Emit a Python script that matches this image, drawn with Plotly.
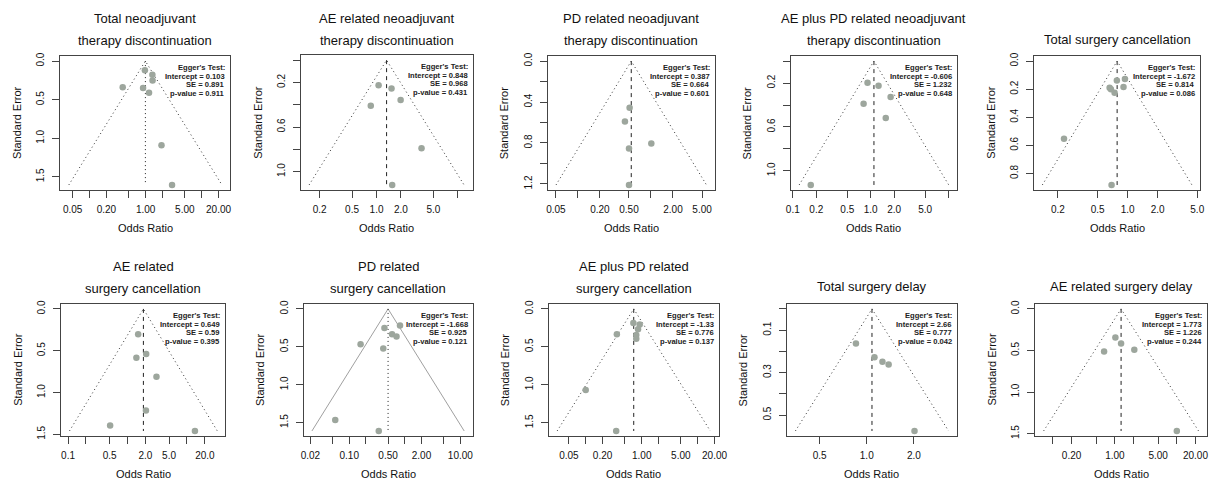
import numpy as np
import plotly.graph_objects as go

W, H = 1224, 493
FONT = "Liberation Sans, Arial, Helvetica, sans-serif"

# ---------------- data ----------------
titles = [
    ["Total neoadjuvant", "therapy discontinuation"],
    ["AE related neoadjuvant", "therapy discontinuation"],
    ["PD related neoadjuvant", "therapy discontinuation"],
    ["AE plus PD related neoadjuvant", "therapy discontinuation"],
    ["Total surgery cancellation"],
    ["AE related", "surgery cancellation"],
    ["PD related", "surgery cancellation"],
    ["AE plus PD related", "surgery cancellation"],
    ["Total surgery delay"],
    ["AE related surgery delay"],
]

pooled_or = [0.99, 1.33, 0.537, 1.10, 0.785, 1.85, 0.50, 0.72, 1.08, 1.26]

or_p1 = [0.97, 1.32, 1.33, 0.39, 0.90, 1.15, 1.92, 2.96]
se_p1 = [0.12, 0.176, 0.25, 0.34, 0.35, 0.41, 1.09, 1.605]
or_p2 = [1.06, 1.53, 1.98, 0.85, 3.58, 1.56]
se_p2 = [0.225, 0.255, 0.357, 0.41, 0.79, 1.12]
or_p3 = [0.51, 0.44, 1.01, 0.50, 0.50]
se_p3 = [0.456, 0.59, 0.806, 0.854, 1.21]
or_p4 = [0.91, 1.26, 1.80, 0.81, 1.56, 0.17]
se_p4 = [0.197, 0.224, 0.326, 0.389, 0.518, 1.128]
or_p5 = [0.94, 0.78, 0.91, 0.66, 0.68, 0.74, 0.23, 0.69]
se_p5 = [0.127, 0.139, 0.184, 0.19, 0.20, 0.226, 0.553, 0.882]
or_p6 = [1.51, 2.06, 1.41, 3.07, 2.04, 0.51, 13.6]
se_p6 = [0.304, 0.538, 0.584, 0.81, 1.215, 1.395, 1.46]
or_p7 = [0.82, 0.43, 0.59, 0.71, 0.16, 0.41, 0.056, 0.34]
se_p7 = [0.219, 0.253, 0.334, 0.364, 0.467, 0.523, 1.466, 1.61]
or_p8 = [0.71, 0.92, 0.86, 0.80, 0.80, 0.36, 0.10, 0.35]
se_p8 = [0.184, 0.205, 0.269, 0.342, 0.393, 0.333, 1.068, 1.607]
or_p9 = [0.853, 1.12, 1.26, 1.38, 2.02]
se_p9 = [0.163, 0.228, 0.249, 0.262, 0.575]
or_p10 = [1.02, 1.26, 2.06, 0.67, 10.0]
se_p10 = [0.345, 0.415, 0.49, 0.513, 1.469]

egger_intercept = ["0.103", "0.848", "0.387", "-0.606", "-1.672", "0.649", "-1.668", "-1.33", "2.66", "1.773"]
egger_se = ["0.891", "0.968", "0.664", "1.232", "0.814", "0.59", "0.925", "0.776", "0.777", "1.226"]
egger_p = ["0.911", "0.431", "0.601", "0.648", "0.086", "0.395", "0.121", "0.137", "0.042", "0.244"]

x_ticks = [
    [0.05, 0.1, 0.2, 0.5, 1, 2, 5, 10, 20],
    [0.2, 0.5, 1, 2, 5, 10],
    [0.05, 0.1, 0.2, 0.5, 1, 2, 5],
    [0.1, 0.2, 0.5, 1, 2, 5, 10],
    [0.2, 0.5, 1, 2, 5],
    [0.1, 0.2, 0.5, 1, 2, 5, 10, 20],
    [0.02, 0.05, 0.1, 0.2, 0.5, 1, 2, 5, 10],
    [0.05, 0.1, 0.2, 0.5, 1, 2, 5, 10, 20],
    [0.5, 1, 2],
    [0.05, 0.1, 0.2, 0.5, 1, 2, 5, 10, 20],
]
x_labels = [
    ["0.05", "", "0.20", "", "1.00", "", "5.00", "", "20.00"],
    ["0.2", "0.5", "1.0", "2.0", "5.0", ""],
    ["0.05", "", "0.20", "0.50", "", "2.00", "5.00"],
    ["0.1", "0.2", "0.5", "1.0", "2.0", "5.0", ""],
    ["0.2", "0.5", "1.0", "2.0", "5.0"],
    ["0.1", "", "0.5", "", "2.0", "5.0", "", "20.0"],
    ["0.02", "", "0.10", "", "0.50", "", "2.00", "", "10.00"],
    ["0.05", "", "0.20", "", "1.00", "", "5.00", "", "20.00"],
    ["0.5", "1.0", "2.0"],
    ["0.05", "", "0.20", "", "1.00", "", "5.00", "", "20.00"],
]
y_ticks = [
    [0.0, 0.5, 1.0, 1.5],
    [0.0, 0.2, 0.4, 0.6, 0.8, 1.0],
    [0.0, 0.2, 0.4, 0.6, 0.8, 1.0, 1.2],
    [0.0, 0.2, 0.4, 0.6, 0.8, 1.0],
    [0.0, 0.2, 0.4, 0.6, 0.8],
    [0.0, 0.5, 1.0, 1.5],
    [0.0, 0.5, 1.0, 1.5],
    [0.0, 0.5, 1.0, 1.5],
    [0.0, 0.1, 0.2, 0.3, 0.4, 0.5],
    [0.0, 0.5, 1.0, 1.5],
]
y_labels = [
    ["0.0", "0.5", "1.0", "1.5"],
    ["", "0.2", "", "0.6", "", "1.0"],
    ["0.0", "", "0.4", "", "0.8", "", "1.2"],
    ["", "0.2", "", "0.6", "", "1.0"],
    ["0.0", "0.2", "0.4", "0.6", "0.8"],
    ["0.0", "0.5", "1.0", "1.5"],
    ["0.0", "0.5", "1.0", "1.5"],
    ["0.0", "0.5", "1.0", "1.5"],
    ["", "0.1", "", "0.3", "", "0.5"],
    ["0.0", "0.5", "1.0", "1.5"],
]

or_values = [or_p1, or_p2, or_p3, or_p4, or_p5, or_p6, or_p7, or_p8, or_p9, or_p10]
se_values = [se_p1, se_p2, se_p3, se_p4, se_p5, se_p6, se_p7, se_p8, se_p9, se_p10]

# ---------------- styles / layout ----------------
# plot boxes in pixels: left, right, top, bottom
boxes = [
    (56, 228, 53, 189), (299, 473, 52, 189), (549, 718, 53, 189),
    (795, 963, 53, 189), (1041, 1209, 53, 189),
    (57, 223, 305, 439), (302, 473, 305, 439), (550, 722, 305, 439),
    (791, 963, 305, 439), (1042, 1216, 305, 439),
]
DOT = "1px,3px"
DASH = "4px,4px"
funnel_style = [("#333", DOT)] * 6 + [("#a0a0a0", "solid")] + [("#333", DOT)] * 3
center_style = [DOT] + [DASH] * 5 + [DOT] + [DASH] * 3

LINE_C = "#444"
PT_C = "#9da69d"

fig = go.Figure()
annotations = []
layout = {}

for i in range(10):
    sfx = "" if i == 0 else str(i + 1)
    xa, ya = "x" + sfx, "y" + sfx
    l, r, t, b = boxes[i]
    est = pooled_or[i]
    ors = np.array(or_values[i])
    ses = np.array(se_values[i])
    m = ses.max()
    lo = est * np.exp(-1.96 * m)
    hi = est * np.exp(1.96 * m)
    llo = np.log10(min(lo, ors.min()))
    lhi = np.log10(max(hi, ors.max()))
    span = lhi - llo
    xr = [llo - 0.055 * span, lhi + 0.055 * span]
    yr = [m * 1.04, -0.04 * m]

    fc, fd = funnel_style[i]
    fig.add_trace(go.Scatter(x=[lo, est, hi], y=[m, 0, m], mode="lines",
                             line=dict(color=fc, width=1, dash=fd),
                             xaxis=xa, yaxis=ya, showlegend=False, hoverinfo="skip"))
    fig.add_trace(go.Scatter(x=[est, est], y=[0, m], mode="lines",
                             line=dict(color="#222", width=1, dash=center_style[i]),
                             xaxis=xa, yaxis=ya, showlegend=False, hoverinfo="skip"))
    fig.add_trace(go.Scatter(x=ors, y=ses, mode="markers",
                             marker=dict(size=6.5, color=PT_C, line=dict(width=0)),
                             xaxis=xa, yaxis=ya, showlegend=False))

    common = dict(ticks="outside", ticklen=7, tickwidth=1, tickcolor=LINE_C,
                  showline=True, linecolor=LINE_C, linewidth=1, mirror=True,
                  showgrid=False, zeroline=False,
                  tickfont=dict(family=FONT, size=10, color="#111"))
    layout["xaxis" + sfx] = dict(common, domain=[l / W, r / W], anchor=ya, type="log",
                                 range=xr, tickmode="array", tickvals=x_ticks[i],
                                 ticktext=x_labels[i], ticklabelstandoff=3)
    layout["yaxis" + sfx] = dict(common, domain=[1 - b / H, 1 - t / H], anchor=xa,
                                 range=yr, tickmode="array", tickvals=y_ticks[i],
                                 ticktext=y_labels[i], tickangle=-90,
                                 ticklabelstandoff=4)

    # titles
    row2 = t > 250
    tl = titles[i]
    ys = ([267, 289] if row2 else [15, 37]) if len(tl) == 2 else ([287] if row2 else [36])
    for txt, yp in zip(tl, ys):
        annotations.append(dict(text=txt, xref=xa + " domain", x=0.5, yref="paper",
                                y=1 - yp / H, xanchor="center", yanchor="middle",
                                showarrow=False, font=dict(family=FONT, size=13, color="#111")))
    # axis titles
    annotations.append(dict(text="Odds Ratio", xref=xa + " domain", x=0.5, yref="paper",
                            y=1 - (b + 39) / H, xanchor="center", yanchor="middle",
                            showarrow=False, font=dict(family=FONT, size=11, color="#111")))
    annotations.append(dict(text="Standard Error", xref="paper", x=(l - 44) / W,
                            yref=ya + " domain", y=0.5, xanchor="center", yanchor="middle",
                            textangle=-90, showarrow=False,
                            font=dict(family=FONT, size=11, color="#111")))
    # Egger's test text
    lines = ["Egger's Test:", "Intercept = " + egger_intercept[i],
             "SE = " + egger_se[i], "p-value = " + egger_p[i]]
    for k, txt in enumerate(lines):
        yp = t + 12 + 8.6 * k
        annotations.append(dict(text="<b>" + txt + "</b>", xref=xa + " domain", x=1,
                                xshift=-3, yref="paper", y=1 - yp / H,
                                xanchor="right", yanchor="middle", showarrow=False,
                                font=dict(family=FONT, size=7.6, color="#222")))

fig.update_layout(width=W, height=H, margin=dict(l=0, r=0, t=0, b=0),
                  paper_bgcolor="white", plot_bgcolor="white",
                  annotations=annotations, **layout)

fig.write_html("out.html", config={"displayModeBar": False},
               post_script="document.body.style.margin='0px';document.body.style.padding='0px';")
